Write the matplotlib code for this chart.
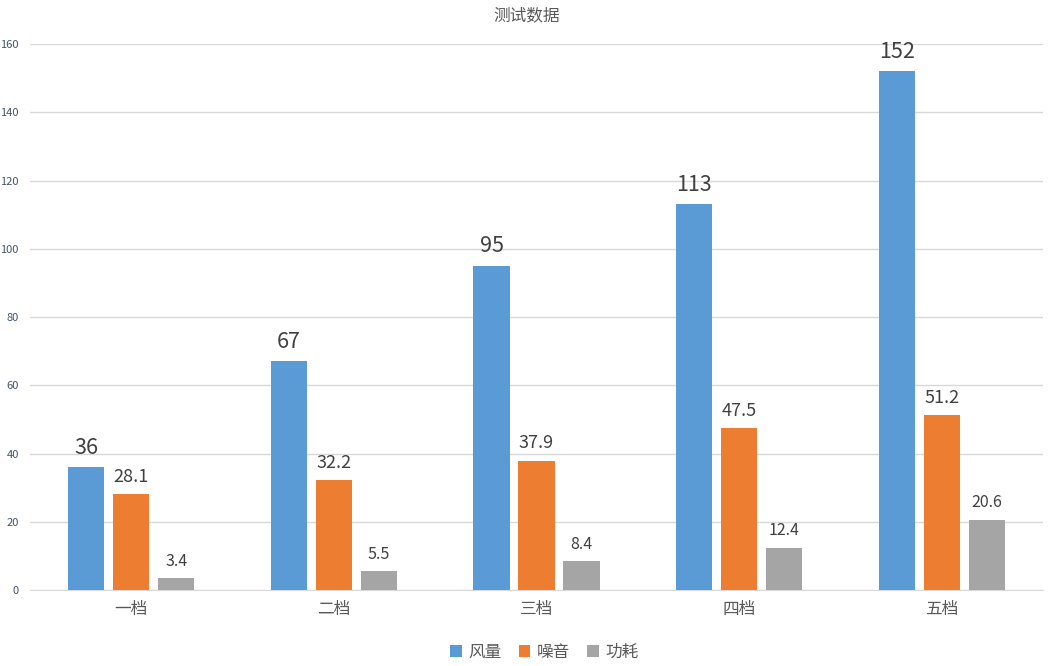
import matplotlib
matplotlib.use("Agg")
import matplotlib.pyplot as plt
import numpy as np

plt.rcParams['font.family'] = ['Noto Sans CJK SC', 'DejaVu Sans']

categories = ['一档', '二档', '三档', '四档', '五档']
series_names = ['风量', '噪音', '功耗']
airflow = [36, 67, 95, 113, 152]
noise = [28.1, 32.2, 37.9, 47.5, 51.2]
power = [3.4, 5.5, 8.4, 12.4, 20.6]
yticks = [0, 20, 40, 60, 80, 100, 120, 140, 160]

colors = ['#5B9BD5', '#ED7D31', '#A5A5A5']
label_sizes = [15.5, 13, 11.5]
series = [airflow, noise, power]

fig = plt.figure(figsize=(10.53, 6.66), dpi=100)
ax = fig.add_axes([0.0285, 0.1141, 0.962, 0.8198])

x = np.arange(len(categories))
width = 0.178
offset = 0.222
for i, (vals, name, c) in enumerate(zip(series, series_names, colors)):
    pos = x + (i - 1) * offset
    bars = ax.bar(pos, vals, width, color=c, label=name, zorder=3)
    for b, v in zip(bars, vals):
        ax.annotate(f'{v:g}', (b.get_x() + b.get_width() / 2, v),
                    xytext=(0, 6), textcoords='offset points',
                    ha='center', va='bottom', fontsize=label_sizes[i],
                    color='#404040', clip_on=False)

ax.set_xlim(-0.5, len(categories) - 0.5)
ax.set_ylim(0, 160)
ax.set_yticks(yticks)
ax.set_xticks(x)
ax.set_xticklabels(categories, fontsize=12, color='#595959')
ax.tick_params(axis='y', labelsize=8, labelcolor='#44546A', length=0, pad=8)
ax.tick_params(axis='x', length=0, pad=8)
ax.grid(axis='y', color='#D9D9D9', linewidth=1, zorder=0)
for s in ['top', 'right', 'left']:
    ax.spines[s].set_visible(False)
ax.spines['bottom'].set_color('#D9D9D9')

fig.text(0.5, 0.977, '测试数据', ha='center', va='center', fontsize=12, color='#595959')

leg = fig.legend(loc='center', bbox_to_anchor=(0.517, 0.021), ncol=3, frameon=False,
                 fontsize=12, handlelength=0.7, handleheight=0.7, handletextpad=0.4,
                 columnspacing=1.0)
for t in leg.get_texts():
    t.set_color('#595959')

fig.savefig('out.png', dpi=100)
